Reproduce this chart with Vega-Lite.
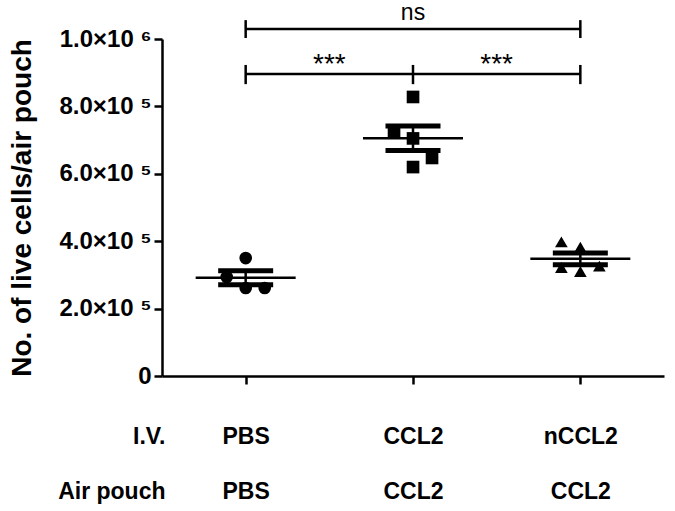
{
  "$schema": "https://vega.github.io/schema/vega-lite/v6.json",
  "width": 502,
  "height": 337,
  "autosize": {"type": "none"},
  "padding": {"left": 162, "top": 39, "right": 11, "bottom": 135},
  "background": "white",
  "config": {"view": {"stroke": null}, "font": "Liberation Sans"},
  "datasets": {
    "points": [
      {"group": 1, "iv": "PBS", "col": 0, "value": 350000},
      {"group": 1, "iv": "PBS", "col": -1, "value": 294000},
      {"group": 1, "iv": "PBS", "col": 0, "value": 261000},
      {"group": 1, "iv": "PBS", "col": 1, "value": 261000},
      {"group": 2, "iv": "CCL2", "col": 0, "value": 828000},
      {"group": 2, "iv": "CCL2", "col": -1, "value": 727000},
      {"group": 2, "iv": "CCL2", "col": 0, "value": 705000},
      {"group": 2, "iv": "CCL2", "col": 1, "value": 647000},
      {"group": 2, "iv": "CCL2", "col": 0, "value": 620000},
      {"group": 3, "iv": "nCCL2", "col": -1, "value": 398000},
      {"group": 3, "iv": "nCCL2", "col": 0, "value": 382000},
      {"group": 3, "iv": "nCCL2", "col": -1, "value": 322000},
      {"group": 3, "iv": "nCCL2", "col": 0, "value": 310000},
      {"group": 3, "iv": "nCCL2", "col": 1, "value": 326000}
    ],
    "hbr": [
      {"from": 1, "to": 3, "level": 1030000},
      {"from": 1, "to": 3, "level": 896000}
    ],
    "vbr": [
      {"at": 1, "lo": 1003000, "hi": 1056000},
      {"at": 3, "lo": 1003000, "hi": 1056000},
      {"at": 1, "lo": 866000, "hi": 923000},
      {"at": 2, "lo": 866000, "hi": 923000},
      {"at": 3, "lo": 866000, "hi": 923000}
    ],
    "sig": [
      {"kind": "ns", "at": 2, "level": 1056000, "label": "ns"},
      {"kind": "star", "at": 1.5, "level": 900000, "label": "***"},
      {"kind": "star", "at": 2.5, "level": 900000, "label": "***"}
    ]
  },
  "resolve": {"scale": {"x": "independent"}, "axis": {"x": "independent"}},
  "layer": [
    {
      "layer": [
        {
          "data": {"name": "points"},
          "mark": {
            "type": "errorbar", "extent": "stderr", "orient": "vertical", "color": "black",
            "ticks": {"size": 55, "thickness": 5, "color": "black", "opacity": 1},
            "rule": {"strokeWidth": 2.5, "color": "black"}
          },
          "encoding": {
            "x": {
              "field": "group", "type": "quantitative",
              "scale": {"domain": [0.5, 3.5], "nice": false, "zero": false},
              "axis": {
                "values": [1, 2, 3],
                "labelExpr": "datum.value == 1 ? ['PBS','PBS'] : datum.value == 2 ? ['CCL2','CCL2'] : ['nCCL2','CCL2']",
                "labelLineHeight": 55,
                "labelBaseline": "alphabetic",
                "labelPadding": 59,
                "labelFlush": false,
                "labelOverlap": false,
                "tickSize": 8,
                "grid": false,
                "domainWidth": 2.5, "tickWidth": 2.5,
                "domainColor": "black", "tickColor": "black",
                "labelFont": "Liberation Sans", "labelFontSize": 23, "labelFontWeight": "bold", "labelColor": "black",
                "title": ["I.V.", "Air pouch"],
                "titleLineHeight": 55,
                "titleAlign": "right",
                "titleBaseline": "alphabetic",
                "titleX": 3, "titleY": 67,
                "titleFont": "Liberation Sans", "titleFontSize": 23, "titleFontWeight": "bold", "titleColor": "black"
              }
            },
            "y": {
              "field": "value", "type": "quantitative",
              "scale": {"domain": [0, 1000000], "nice": false},
              "axis": {
                "values": [0, 200000, 400000, 600000, 800000, 1000000],
                "labelExpr": "datum.value == 0 ? '0' : datum.value == 1000000 ? '1.0×10 ⁶' : format(datum.value / 100000, '.1f') + '×10 ⁵'",
                "grid": false,
                "domainColor": "black", "domainWidth": 2.5,
                "tickColor": "black", "tickWidth": 2.5, "tickSize": 8,
                "labelFont": "Liberation Sans", "labelFontSize": 24, "labelFontWeight": "bold", "labelColor": "black",
                "labelPadding": 3,
                "title": "No. of live cells/air pouch",
                "titleFont": "Liberation Sans", "titleFontSize": 28, "titleFontWeight": "bold", "titleColor": "black",
                "titleX": -140,
                "titleBaseline": "middle"
              }
            }
          }
        },
        {
          "data": {"name": "points"},
          "mark": {"type": "tick", "orient": "horizontal", "size": 100, "thickness": 2.5, "color": "black", "opacity": 1},
          "encoding": {
            "x": {"field": "group", "type": "quantitative"},
            "y": {"aggregate": "mean", "field": "value", "type": "quantitative"}
          }
        },
        {
          "data": {"name": "hbr"},
          "mark": {"type": "rule", "strokeWidth": 2.5, "color": "black"},
          "encoding": {
            "x": {"field": "from", "type": "quantitative"},
            "x2": {"field": "to"},
            "y": {"field": "level", "type": "quantitative"}
          }
        },
        {
          "data": {"name": "vbr"},
          "mark": {"type": "rule", "strokeWidth": 2.5, "color": "black"},
          "encoding": {
            "x": {"field": "at", "type": "quantitative"},
            "y": {"field": "lo", "type": "quantitative"},
            "y2": {"field": "hi"}
          }
        },
        {
          "data": {"name": "sig"},
          "transform": [{"filter": "datum.kind == 'ns'"}],
          "mark": {"type": "text", "fontSize": 23, "font": "Liberation Sans", "color": "black", "baseline": "alphabetic", "align": "center"},
          "encoding": {
            "x": {"field": "at", "type": "quantitative"},
            "y": {"field": "level", "type": "quantitative"},
            "text": {"field": "label"}
          }
        },
        {
          "data": {"name": "sig"},
          "transform": [{"filter": "datum.kind == 'star'"}],
          "mark": {"type": "text", "fontSize": 28, "font": "Liberation Sans", "color": "black", "baseline": "alphabetic", "align": "center"},
          "encoding": {
            "x": {"field": "at", "type": "quantitative"},
            "y": {"field": "level", "type": "quantitative"},
            "text": {"field": "label"}
          }
        }
      ]
    },
    {
      "data": {"name": "points"},
      "mark": {"type": "point", "filled": true, "size": 160, "color": "black", "opacity": 1},
      "encoding": {
        "x": {
          "field": "iv", "type": "nominal",
          "scale": {"type": "band", "domain": ["PBS", "CCL2", "nCCL2"], "paddingInner": 0, "paddingOuter": 0},
          "axis": null
        },
        "xOffset": {"field": "col", "type": "quantitative", "scale": {"domain": [-1, 1], "range": [64.7, 102.7]}},
        "y": {"field": "value", "type": "quantitative"},
        "shape": {
          "field": "iv", "type": "nominal",
          "scale": {"domain": ["PBS", "CCL2", "nCCL2"], "range": ["circle", "square", "triangle-up"]},
          "legend": null
        }
      }
    }
  ]
}
